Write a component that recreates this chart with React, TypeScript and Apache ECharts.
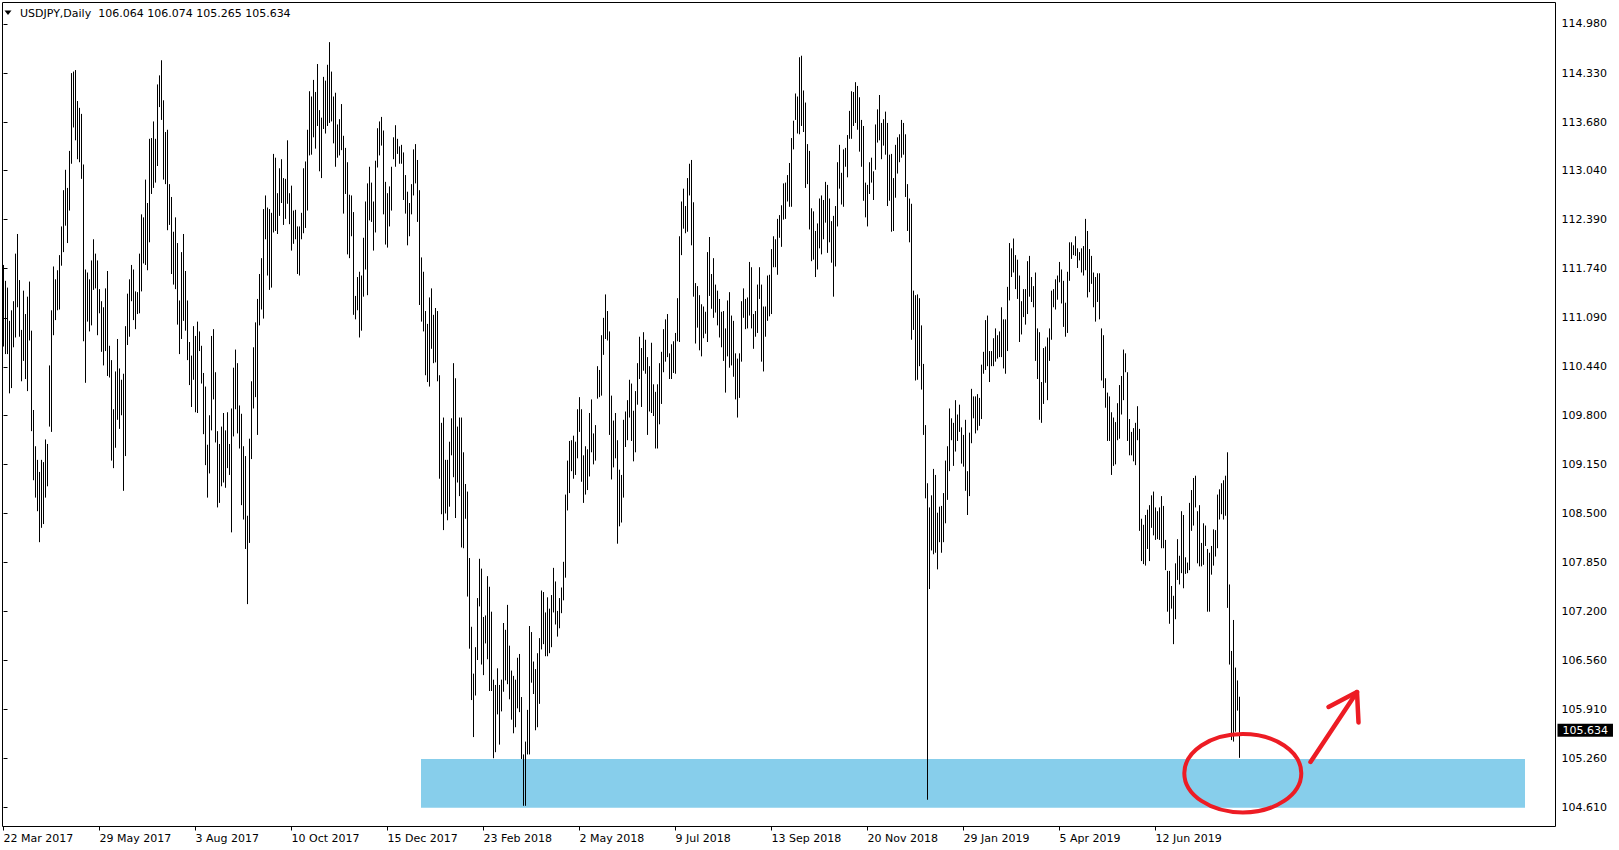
import React, { useEffect, useRef } from "react";
import * as echarts from "echarts";

// ---- data (daily high / low, bar index 0 = 22 Mar 2017) ----
const highs: number[] = [
  111.79, 111.58, 111.49, 111.05, 111.19, 111.31, 111.94, 112.20, 111.59, 110.93,
  111.45, 111.14, 111.37, 111.57, 110.92, 109.87, 109.39, 109.21, 109.05, 109.21,
  109.18, 109.48, 109.42, 110.46, 111.19, 111.77, 111.60, 111.72, 111.92, 112.30,
  112.78, 113.05, 112.81, 113.30, 114.33, 114.35, 114.37, 113.96, 113.87, 113.79,
  113.12, 111.73, 111.69, 111.60, 111.85, 112.13, 111.94, 111.85, 111.47, 111.31,
  111.23, 111.48, 111.71, 110.72, 110.53, 109.88, 110.38, 110.81, 110.42, 110.27,
  110.35, 110.98, 111.41, 111.60, 111.79, 111.73, 111.44, 111.43, 111.94, 112.46,
  112.42, 112.92, 112.61, 113.46, 113.47, 113.69, 113.46, 114.18, 114.30, 114.50,
  113.97, 113.55, 113.58, 112.86, 112.69, 112.23, 112.42, 112.08, 111.32, 111.96,
  112.20, 111.71, 111.32, 110.77, 110.59, 110.98, 110.85, 111.04, 110.91, 110.72,
  110.36, 110.18, 109.41, 109.80, 110.85, 110.94, 110.37, 109.59, 109.42, 109.65,
  109.83, 109.60, 109.84, 109.42, 109.89, 110.43, 110.67, 110.49, 109.93, 109.82,
  109.39, 109.26, 108.47, 109.49,
  110.25, 110.70, 111.03, 111.34, 111.67, 111.88, 112.53, 112.71, 112.55, 112.53,
  112.48, 113.26, 113.21, 112.74, 113.07, 113.19, 112.94, 112.93, 113.44, 112.74,
  112.84, 112.51, 112.52, 112.30, 112.30, 112.48, 113.07, 113.16, 113.58, 114.09,
  114.02, 114.24, 114.08, 114.45, 113.84, 113.74, 114.28, 114.23, 114.44, 114.74,
  114.35, 114.02, 114.07, 113.65, 113.72, 113.92, 113.50, 113.34, 113.15, 112.72,
  112.71, 112.49, 111.38, 111.63, 111.70, 111.65, 112.15, 112.63, 112.87, 113.09,
  112.88, 112.63, 113.17, 113.60, 113.69, 113.75, 113.57, 112.89, 112.74, 112.83,
  113.09, 113.48, 113.64, 113.46, 113.36, 113.38, 113.28, 112.98, 112.76, 112.61,
  112.86, 113.32, 113.39, 113.18, 112.78, 111.89, 111.70, 111.18, 111.01, 111.36,
  111.48, 111.13, 111.22, 111.18, 110.33, 109.70, 109.77, 109.21, 109.21, 109.45,
  109.76, 110.49, 110.29, 109.65, 109.77, 109.77, 109.31, 108.89, 108.79, 107.91,
  107.00, 106.38, 106.73, 107.38, 107.90, 107.77, 107.13, 107.15, 107.67, 107.53,
  107.20, 106.30, 106.23, 106.45, 106.23,
  106.30, 107.05, 106.96, 107.29, 106.75, 106.42, 106.35, 106.30, 106.59, 106.64,
  106.07, 105.31, 105.48, 105.90, 107.01, 106.93, 106.54, 106.44, 106.65, 106.85,
  107.48, 107.46, 107.19, 107.39, 107.24, 107.42, 107.78, 107.60, 107.21, 107.38,
  107.52, 107.86, 108.75, 109.20, 109.46, 109.47, 109.53, 109.45, 109.88, 110.04,
  109.88, 109.27, 109.39, 109.35, 109.83, 110.01, 109.56, 109.67, 110.45, 110.40,
  110.86, 111.09, 111.40, 111.18, 110.91, 110.06, 109.73, 109.83, 109.47, 109.08,
  109.01, 109.74, 109.85, 110.00, 110.27, 110.22, 109.86, 110.12, 110.49, 110.84,
  110.69, 110.90, 110.80, 110.57, 110.45, 110.76, 110.21, 110.11, 110.21, 110.49,
  110.64, 110.94, 111.07, 111.14, 110.62, 110.74, 110.78, 110.89, 111.35, 112.17,
  112.63, 112.80, 112.57, 112.94, 113.13, 113.18, 112.62, 111.55, 111.51, 111.39,
  111.27, 111.24, 111.17, 111.96, 112.16, 111.67, 111.88, 111.53, 111.45, 111.34,
  111.17, 111.18, 110.95, 111.32, 111.43, 111.12, 111.05, 110.62, 110.55, 110.62,
  111.31, 111.48, 111.34, 111.36, 111.83,
  111.76, 111.14, 111.18, 111.53, 111.76, 111.53, 111.24, 111.24, 111.65, 111.66,
  112.00, 112.17, 112.13, 112.40, 112.45, 112.58, 112.87, 112.88, 112.98, 113.14,
  113.47, 113.70, 114.06, 114.02, 114.54, 114.56, 114.10, 113.94, 113.39, 113.30,
  112.54, 112.50, 112.24, 112.34, 112.67, 112.71, 112.65, 112.89, 112.85, 112.67,
  112.37, 112.44, 112.57, 113.15, 113.38, 113.01, 113.32, 113.34, 113.51, 113.83,
  114.09, 114.08, 114.21, 114.16, 114.01, 113.71, 113.63, 112.88, 112.85, 113.15,
  113.21, 113.03, 113.65, 113.85, 114.04, 113.67, 113.72, 113.82, 113.67, 113.25,
  113.26, 112.94, 113.38, 113.48, 113.52, 113.71, 113.67, 113.52, 112.86, 112.67,
  112.60, 111.45, 111.39, 111.40, 111.35, 110.99, 110.48, 109.67, 108.90, 108.58,
  108.74, 109.09, 109.01, 108.51, 108.59, 108.60, 108.77, 109.20, 109.39, 109.89,
  109.76, 109.70, 110.00, 109.81, 109.94, 109.64, 109.54, 109.74, 109.06, 109.57,
  110.15, 110.05, 110.05, 110.08, 110.03, 110.47, 110.64, 111.06, 111.12, 110.65,
  110.65, 110.82, 110.95, 110.86, 110.91,
  111.23, 111.07, 111.07, 111.50, 112.08, 112.01, 112.14, 111.92, 111.86, 111.65,
  111.31, 111.47, 111.47, 111.84, 111.91, 111.63, 111.51, 111.69, 110.95, 110.90,
  110.24, 110.69, 110.71, 110.83, 110.95, 111.45, 111.47, 111.60, 111.65, 111.83,
  111.73, 111.58, 111.29, 111.70, 112.09, 112.09, 112.05, 112.17, 112.01, 111.96,
  112.01, 112.04, 112.40, 112.24, 112.00, 111.91, 111.69, 111.63, 111.68, 111.68,
  110.95, 110.86, 110.29, 110.10, 110.05, 109.84, 109.77, 109.71, 109.96, 110.20,
  110.32, 110.67, 110.62, 110.37, 109.75, 109.58, 109.63, 109.70, 109.92, 109.62,
  108.43, 108.35, 108.48, 108.55, 108.61, 108.74, 108.79, 108.58, 108.53, 108.58,
  108.73, 108.60, 108.15, 107.74, 107.74, 107.54, 107.41, 107.84, 108.16, 107.94,
  108.53, 108.48, 107.92, 107.85, 108.64, 108.81, 108.97, 109.00, 108.53, 108.61,
  108.11, 108.37, 108.34, 108.03, 107.98, 108.07, 108.29, 108.28, 108.75, 108.82,
  108.90, 108.94, 109.00, 109.31, 107.56, 106.68, 107.09, 106.46, 106.29, 106.074,
];

const lows: number[] = [
  110.71, 110.61, 110.61, 110.09, 110.16, 110.70, 110.83, 111.23, 110.84, 110.25,
  110.52, 110.28, 110.12, 110.79, 109.59, 108.94, 108.71, 108.53, 108.12, 108.31,
  108.36, 108.71, 108.86, 109.65, 109.58, 110.86, 111.06, 111.19, 111.20, 111.78,
  111.96, 112.31, 112.08, 112.51, 113.13, 113.61, 113.44, 113.19, 113.15, 112.93,
  110.78, 110.23, 111.04, 110.91, 110.99, 111.46, 111.48, 110.86, 111.15, 110.64,
  110.46, 110.65, 110.32, 110.30, 109.20, 109.10, 109.37, 109.74, 109.62, 109.80,
  108.80, 109.26, 110.73, 110.84, 111.31, 111.06, 110.94, 111.14, 111.15, 111.44,
  111.81, 111.79, 111.72, 112.09, 112.73, 112.81, 112.88, 113.10, 113.88, 113.71,
  112.92, 112.86, 112.25, 112.32, 111.67, 111.53, 111.47, 111.00, 110.61, 110.81,
  111.05, 110.92, 110.53, 110.20, 109.91, 110.27, 109.84, 109.83, 110.65, 110.22,
  109.55, 109.14, 108.71, 109.03, 109.60, 110.01, 109.44, 108.58, 108.64, 108.86,
  108.91, 108.84, 109.10, 109.01, 108.25, 109.52, 109.88, 109.56, 109.36, 108.61,
  108.42, 108.03, 107.30, 108.11,
  109.22, 109.89, 110.04, 109.54, 110.99, 111.20, 111.08, 112.13, 111.65, 111.46,
  111.49, 112.22, 112.24, 112.20, 112.44, 112.61, 112.32, 112.40, 112.60, 112.33,
  111.98, 112.07, 112.13, 111.67, 111.65, 112.13, 112.21, 112.28, 112.51, 113.24,
  113.25, 113.48, 113.33, 113.63, 113.03, 112.94, 113.59, 113.53, 113.63, 113.67,
  113.69, 113.40, 113.09, 113.21, 113.24, 113.31, 112.47, 112.73, 111.93, 111.88,
  112.17, 111.13, 111.07, 111.19, 110.83, 110.92, 111.37, 111.73, 111.39, 112.38,
  112.36, 111.98, 112.22, 113.08, 113.24, 113.37, 112.46, 112.06, 112.02, 112.30,
  112.51, 113.19, 113.09, 113.26, 113.13, 113.13, 112.65, 112.47, 112.05, 112.17,
  112.46, 112.71, 112.87, 112.36, 111.26, 111.04, 110.91, 110.33, 110.24, 110.18,
  110.68, 110.49, 110.50, 110.25, 108.96, 108.49, 108.28, 108.50, 108.41, 108.59,
  109.27, 108.98, 108.44, 108.91, 108.73, 108.05, 108.04, 108.43, 107.40, 106.71,
  106.03, 105.54, 106.09, 106.56, 107.27, 106.50, 106.36, 106.78, 106.57, 106.15,
  106.15, 105.26, 105.34, 105.84, 105.44,
  105.88, 106.14, 106.29, 106.24, 106.04, 105.77, 105.59, 105.67, 105.92, 105.87,
  105.25, 104.63, 104.63, 105.31, 105.31, 106.26, 106.11, 105.63, 105.67, 105.98,
  106.70, 106.77, 106.61, 106.61, 106.65, 106.73, 107.19, 107.03, 106.87, 106.98,
  107.18, 107.35, 107.65, 108.54, 108.77, 109.06, 108.96, 109.01, 109.23, 109.58,
  108.92, 108.64, 108.75, 108.81, 108.99, 109.31, 109.15, 109.20, 110.02, 110.04,
  110.06, 110.60, 110.81, 110.79, 109.54, 108.95, 109.11, 109.23, 108.10, 108.33,
  108.38, 108.71, 109.38, 109.47, 109.77, 109.46, 109.19, 109.31, 109.94, 110.28,
  109.91, 110.39, 110.35, 109.54, 109.85, 109.83, 109.79, 109.36, 109.36, 109.68,
  109.95, 110.37, 110.51, 110.57, 110.28, 110.28, 110.36, 110.35, 110.78, 110.77,
  111.92, 112.27, 112.21, 112.23, 112.71, 112.05, 111.37, 110.75, 110.96, 110.66,
  110.58, 110.82, 110.88, 110.77, 111.38, 111.21, 111.09, 111.16, 110.99, 110.83,
  110.70, 110.52, 110.10, 110.58, 110.43, 110.46, 110.31, 110.01, 109.77, 110.03,
  110.51, 111.09, 110.94, 110.95, 111.12,
  110.95, 110.68, 110.84, 110.89, 111.34, 110.51, 110.38, 110.84, 111.05, 111.11,
  111.14, 111.76, 111.76, 111.66, 112.15, 112.03, 112.39, 112.40, 112.63, 112.56,
  112.56, 113.32, 113.71, 113.53, 113.52, 113.63, 113.55, 112.81, 112.86, 112.26,
  111.84, 111.86, 111.63, 111.73, 112.01, 111.93, 112.13, 112.35, 111.95, 112.09,
  111.82, 111.37, 111.77, 112.30, 112.80, 112.59, 112.56, 113.09, 112.95, 113.46,
  113.46, 113.63, 113.67, 113.58, 113.29, 113.09, 112.64, 112.42, 112.30, 112.73,
  112.88, 112.65, 113.05, 113.41, 113.44, 113.19, 113.37, 113.25, 112.57, 112.64,
  112.23, 112.24, 112.68, 113.00, 113.15, 113.21, 113.25, 112.69, 112.24, 112.09,
  110.80, 110.93, 110.26, 110.27, 110.45, 110.14, 109.54, 108.70, 104.71, 107.50,
  108.01, 107.96, 107.98, 107.76, 108.12, 107.98, 108.12, 108.37, 108.68, 109.06,
  109.47, 109.13, 109.32, 109.46, 109.58, 109.16, 109.12, 108.80, 108.48, 108.73,
  109.43, 109.76, 109.56, 109.60, 109.66, 109.75, 110.35, 110.40, 110.45, 110.24,
  110.45, 110.45, 110.51, 110.55, 110.57,
  110.57, 110.42, 110.35, 110.65, 111.32, 111.63, 111.69, 111.47, 111.34, 110.77,
  110.87, 111.10, 111.00, 111.14, 111.37, 111.30, 111.23, 110.52, 110.28, 109.74,
  109.70, 109.95, 110.23, 110.00, 110.52, 110.80, 111.23, 111.20, 111.33, 111.56,
  111.28, 110.97, 110.84, 110.89, 111.58, 111.87, 111.92, 111.91, 111.75, 111.85,
  111.69, 111.65, 111.72, 111.36, 111.43, 111.54, 111.23, 111.04, 111.30, 111.07,
  110.26, 110.16, 109.90, 109.46, 109.46, 109.01, 109.13, 109.15, 109.47, 109.49,
  109.81, 110.00, 110.37, 109.46, 109.27, 109.27, 109.19, 109.14, 109.47, 108.27,
  107.87, 107.83, 107.81, 108.03, 107.87, 108.31, 108.21, 108.15, 108.16, 108.15,
  108.04, 108.04, 107.75, 107.20, 107.04, 107.24, 106.77, 107.10, 107.62, 107.56,
  107.71, 107.51, 107.70, 107.71, 107.75, 108.27, 108.34, 108.58, 107.84, 107.80,
  107.80, 107.82, 108.07, 107.20, 107.20, 107.69, 107.81, 107.93, 108.04, 108.42,
  108.49, 108.42, 108.47, 107.25, 106.50, 105.50, 105.48, 105.61, 105.89, 105.265,
];

// last bar OHLC shown in the header
const lastOHLC = [106.064, 106.074, 105.265, 105.634];

// time-axis tick labels, one every 48 bars starting at bar 0
const dateLabels = [
  "22 Mar 2017", "29 May 2017", "3 Aug 2017", "10 Oct 2017", "15 Dec 2017",
  "23 Feb 2018", "2 May 2018", "9 Jul 2018", "13 Sep 2018", "20 Nov 2018",
  "29 Jan 2019", "5 Apr 2019", "12 Jun 2019",
];
const dateStep = 48;

// price-axis tick labels
const priceLabels = [
  114.98, 114.33, 113.68, 113.04, 112.39, 111.74, 111.09, 110.44, 109.8,
  109.15, 108.5, 107.85, 107.2, 106.56, 105.91, 105.26, 104.61,
];

// support zone rectangle (bar index / price)
const zoneBars = [208.75, 760.75];
const zonePrices = [105.25, 104.604];

const FONT = "DejaVu Sans";

export default function App() {
  const ref = useRef<HTMLDivElement>(null);

  useEffect(() => {
    if (!ref.current) return;
    const chart = echarts.init(ref.current, null, { renderer: "svg" });
    const data = highs.map((h, i) => [i, h, lows[i]]);
    const tickIdx = dateLabels.map((_, k) => k * dateStep);
    const red = "#ED1C24";

    chart.setOption({
      animation: false,
      backgroundColor: "#fff",
      textStyle: { fontFamily: FONT },
      grid: {
        left: 2.5,
        top: 2.5,
        width: 1553,
        height: 824,
        show: true,
        borderColor: "#000",
        borderWidth: 1,
        backgroundColor: "transparent",
      },
      xAxis: {
        type: "value",
        min: -0.5,
        max: 776,
        axisLine: { show: false },
        splitLine: { show: false },
        axisTick: {
          show: true,
          customValues: tickIdx,
          length: 4,
          lineStyle: { color: "#000" },
        },
        axisLabel: {
          customValues: tickIdx,
          formatter: (v: number) => dateLabels[Math.round(v / dateStep)] ?? "",
          color: "#000",
          fontFamily: FONT,
          fontSize: 11,
          align: "left",
          margin: 6,
        },
      },
      yAxis: {
        type: "value",
        position: "right",
        min: 104.356,
        max: 115.2646,
        scale: true,
        axisLine: { show: false },
        splitLine: { show: false },
        axisTick: {
          show: true,
          customValues: priceLabels,
          length: 4,
          lineStyle: { color: "#000" },
        },
        axisLabel: {
          customValues: priceLabels,
          formatter: (v: number) => v.toFixed(3),
          color: "#000",
          fontFamily: FONT,
          fontSize: 11,
          margin: 6,
        },
      },
      series: [
        {
          type: "custom",
          z: 3,
          clip: false,
          data,
          encode: { x: 0, y: [1, 2] },
          renderItem: (params: any, api: any) => {
            const i = api.value(0);
            const top = api.coord([i, api.value(1)]);
            const bot = api.coord([i, api.value(2)]);
            return {
              type: "line",
              shape: { x1: top[0], y1: top[1], x2: bot[0], y2: bot[1] },
              style: { stroke: "#000", lineWidth: 1 },
            };
          },
          markArea: {
            silent: true,
            itemStyle: { color: "#87CEEB", opacity: 1 },
            data: [
              [
                { xAxis: zoneBars[0], yAxis: zonePrices[0] },
                { xAxis: zoneBars[1], yAxis: zonePrices[1] },
              ],
            ],
          },
        },
        {
          type: "line",
          data: [],
          silent: true,
          clip: false,
          z: 6,
          markLine: {
            silent: true,
            symbol: ["none", "none"],
            lineStyle: { color: "rgba(0,0,0,0)", width: 1, type: "solid" },
            data: [{ yAxis: lastOHLC[3] }],
            label: {
              show: true,
              position: "end",
              distance: 2,
              formatter: lastOHLC[3].toFixed(3),
              color: "#fff",
              backgroundColor: "#000",
              fontFamily: FONT,
              fontSize: 11,
              lineHeight: 13,
              padding: [0, 5, 0, 5],
            },
          },
        },
      ],
      graphic: [
        {
          type: "polygon",
          shape: { points: [[4.5, 10.5], [11.5, 10.5], [8, 15]] },
          style: { fill: "#000" },
        },
        {
          type: "text",
          x: 20,
          y: 13,
          style: {
            text:
              "USDJPY,Daily  " + lastOHLC.map((v) => v.toFixed(3)).join(" "),
            fill: "#000",
            font: `11px "${FONT}"`,
            textVerticalAlign: "middle",
          },
        },
        {
          type: "ellipse",
          shape: { cx: 1242.8, cy: 773.2, rx: 58.5, ry: 39.2 },
          style: { fill: "none", stroke: red, lineWidth: 4 },
          z: 10,
        },
        {
          type: "line",
          shape: { x1: 1310.5, y1: 762, x2: 1357, y2: 692 },
          style: { stroke: red, lineWidth: 4.5, lineCap: "round" },
          z: 10,
        },
        {
          type: "polyline",
          shape: { points: [[1328.5, 707], [1357, 692], [1358.5, 722.5]] },
          style: { stroke: red, lineWidth: 4.5, lineCap: "round", lineJoin: "round", fill: "none" },
          z: 10,
        },
      ],
    });

    return () => chart.dispose();
  }, []);

  return (
    <div
      ref={ref}
      style={{ position: "fixed", left: 0, top: 0, width: 1619, height: 850, background: "#fff" }}
    />
  );
}
